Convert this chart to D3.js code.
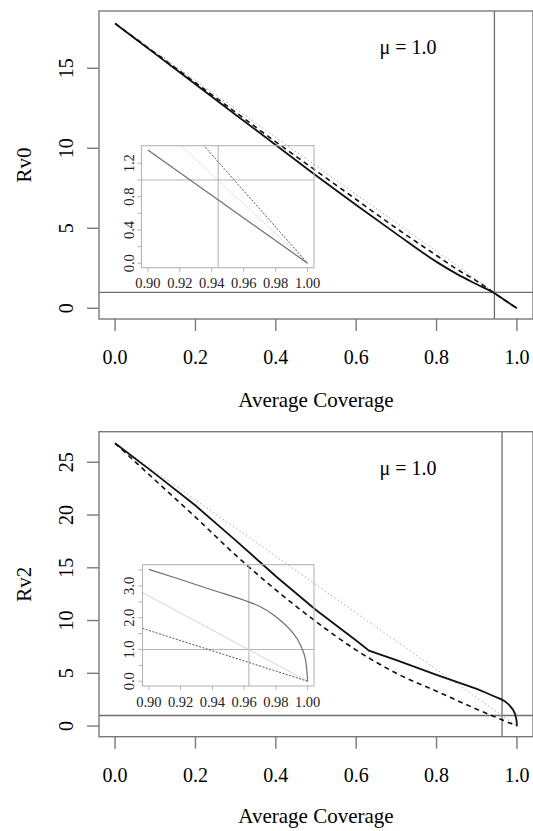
<!DOCTYPE html>
<html>
<head>
<meta charset="utf-8">
<script src="https://cdn.jsdelivr.net/npm/d3@7"></script>
<style>
  body { margin: 0; background: white; }
  svg { display: block; }
</style>
</head>
<body>
<script>
// ---- data ----
const xTicks = [0, 0.2, 0.4, 0.6, 0.8, 1.0]
const insetXTicks = [0.90, 0.92, 0.94, 0.96, 0.98, 1.00]

// top panel (Rv0)
const cov0 = [0, 0.1, 0.2, 0.3, 0.4, 0.5, 0.6, 0.7, 0.8, 0.85, 0.9, 0.94, 0.97, 1.0]
const rv0Solid = [17.8, 15.9, 14.0, 12.1, 10.2, 8.3, 6.45, 4.65, 2.9, 2.15, 1.5, 1.0, 0.5, 0]
const rv0Dashed = [17.8, 15.95, 14.1, 12.25, 10.4, 8.6, 6.8, 5.0, 3.3, 2.45, 1.7, 1.02, 0.5, 0]
const cov0Dotted = [0, 1.0]
const rv0Dotted = [17.8, 0]
const rv0Ticks = [0, 5, 10, 15]
const critical0 = 0.944

// inset of top panel
const inset0Cov = [0.90, 1.00]
const inset0Solid = [1.36, 0]
const inset0DashCov = [0.92, 1.00]
const inset0Dashed = [1.74, 0]
const inset0YTicks = [0, 0.2, 0.4, 0.6, 0.8, 1.0, 1.2]
const inset0YLabels = [0, 0.4, 0.8, 1.2]

// bottom panel (Rv2)
const cov2 = [0, 0.1, 0.2, 0.3, 0.4, 0.5, 0.6, 0.632, 0.7, 0.8, 0.9, 0.92, 0.94, 0.96, 0.97, 0.98, 0.99, 0.995, 0.999, 1.0]
const rv2Solid = [26.8, 23.9, 20.9, 17.6, 14.2, 11.0, 8.1, 7.15, 6.25, 4.85, 3.52, 3.2, 2.87, 2.55, 2.35, 2.03, 1.56, 1.19, 0.57, 0]
const cov2Dashed = [0, 0.1, 0.2, 0.3, 0.4, 0.5, 0.6, 0.7, 0.8, 0.9, 0.94, 0.97, 1.0]
const rv2Dashed = [26.8, 23.3, 19.8, 16.2, 12.9, 9.9, 7.2, 5.0, 3.3, 1.6, 0.96, 0.48, 0]
const cov2Dotted = [0, 1.0]
const rv2Dotted = [26.8, 0]
const rv2Ticks = [0, 5, 10, 15, 20, 25]
const critical2 = 0.963
const inset2YTicks = [0, 0.5, 1.0, 1.5, 2.0, 2.5, 3.0, 3.5]
const inset2YLabels = [0, 1, 2, 3]

const W = 533, H = 831
const font = "'Liberation Serif', 'Times New Roman', serif"

const svg = d3.select("body").append("svg")
    .attr("width", W)
    .attr("height", H)

function pts(xs, ys) {
    return xs.map((x, i) => ({ x: x, y: ys[i] }))
}

let clipId = 0

function drawLines(g, xScale, yScale, box, series) {
    const id = "clip" + (clipId++)
    svg.append("clipPath").attr("id", id)
        .append("rect")
        .attr("x", box.left).attr("y", box.top)
        .attr("width", box.right - box.left).attr("height", box.bottom - box.top)
    const lg = g.append("g").attr("clip-path", `url(#${id})`)
    series.forEach(s => {
        const line = d3.line()
            .x(d => xScale(d.x))
            .y(d => yScale(d.y))
            .curve(s.curve || d3.curveMonotoneX)
        lg.append("path")
            .datum(s.data)
            .attr("d", line)
            .attr("fill", "none")
            .attr("stroke", s.color)
            .attr("stroke-width", s.width)
            .attr("stroke-dasharray", s.dash || null)
    })
}

function drawPanel(cfg) {
    const g = svg.append("g")
    const box = cfg.box
    const x = d3.scaleLinear().domain([-0.04, 1.04]).range([box.left, box.right])
    const y = d3.scaleLinear().domain(cfg.yDomain).range([box.bottom, box.top])

    // reference lines
    g.append("line")
        .attr("x1", box.left).attr("x2", box.right)
        .attr("y1", y(1)).attr("y2", y(1))
        .attr("stroke", "#6e6e6e").attr("stroke-width", 1.3)
    g.append("line")
        .attr("x1", x(cfg.critical)).attr("x2", x(cfg.critical))
        .attr("y1", box.top).attr("y2", box.bottom)
        .attr("stroke", "#6e6e6e").attr("stroke-width", 1.3)

    // main curves
    drawLines(g, x, y, box, [
        { data: pts(cfg.dotX, cfg.dotY), color: "#aaaaaa", width: 1, dash: "1.5,2.5", curve: d3.curveLinear },
        { data: pts(cfg.dashX, cfg.dashY), color: "#111", width: 1.6, dash: "5,4" },
        { data: pts(cfg.solidX, cfg.solidY), color: "#111", width: 1.8, curve: cfg.solidCurve }
    ])

    // box
    g.append("rect")
        .attr("x", box.left).attr("y", box.top)
        .attr("width", box.right - box.left).attr("height", box.bottom - box.top)
        .attr("fill", "none").attr("stroke", "#7a7a7a").attr("stroke-width", 1.4)

    // x axis
    const xAxis = g.append("g")
    xTicks.forEach(t => {
        xAxis.append("line")
            .attr("x1", x(t)).attr("x2", x(t))
            .attr("y1", box.bottom).attr("y2", box.bottom + 12)
            .attr("stroke", "#7a7a7a").attr("stroke-width", 1.4)
        xAxis.append("text")
            .attr("x", x(t)).attr("y", box.bottom + 38)
            .attr("dy", "0.35em")
            .attr("text-anchor", "middle")
            .style("font-family", font).style("font-size", "20px")
            .text(t.toFixed(1))
    })
    g.append("text")
        .attr("x", (box.left + box.right) / 2).attr("y", box.bottom + cfg.titleOffset)
        .attr("text-anchor", "middle")
        .style("font-family", font).style("font-size", "21px")
        .text("Average Coverage")

    // y axis
    cfg.yTicks.forEach(t => {
        g.append("line")
            .attr("x1", box.left - 12).attr("x2", box.left)
            .attr("y1", y(t)).attr("y2", y(t))
            .attr("stroke", "#7a7a7a").attr("stroke-width", 1.4)
        g.append("text")
            .attr("transform", `translate(66, ${y(t)}) rotate(-90)`)
            .attr("dy", "0.35em")
            .attr("text-anchor", "middle")
            .style("font-family", font).style("font-size", "20px")
            .text(t)
    })
    g.append("text")
        .attr("transform", `translate(24, ${(box.top + box.bottom) / 2}) rotate(-90)`)
        .attr("dy", "0.35em")
        .attr("text-anchor", "middle")
        .style("font-family", font).style("font-size", "21px")
        .text(cfg.yLabel)

    g.append("text")
        .attr("x", 408).attr("y", box.top + 36)
        .attr("dy", "0.35em")
        .attr("text-anchor", "middle")
        .style("font-family", font).style("font-size", "20px")
        .text("\u03bc = 1.0")

    // inset
    const ib = cfg.inset.box
    const ix = d3.scaleLinear().domain([0.896, 1.004]).range([ib.left, ib.right])
    const iy = d3.scaleLinear().domain(cfg.inset.yDomain).range([ib.bottom, ib.top])
    const ig = svg.append("g")

    ig.append("line")
        .attr("x1", ib.left).attr("x2", ib.right)
        .attr("y1", iy(1)).attr("y2", iy(1))
        .attr("stroke", "#b4b4b4").attr("stroke-width", 1.1)
    ig.append("line")
        .attr("x1", ix(cfg.critical)).attr("x2", ix(cfg.critical))
        .attr("y1", ib.top).attr("y2", ib.bottom)
        .attr("stroke", "#b4b4b4").attr("stroke-width", 1.1)

    drawLines(ig, ix, iy, ib, cfg.inset.series)

    ig.append("rect")
        .attr("x", ib.left).attr("y", ib.top)
        .attr("width", ib.right - ib.left).attr("height", ib.bottom - ib.top)
        .attr("fill", "none").attr("stroke", "#b4b4b4").attr("stroke-width", 1.1)

    insetXTicks.forEach(t => {
        ig.append("line")
            .attr("x1", ix(t)).attr("x2", ix(t))
            .attr("y1", ib.bottom).attr("y2", ib.bottom + 4)
            .attr("stroke", "#b4b4b4").attr("stroke-width", 1)
        ig.append("text")
            .attr("x", ix(t)).attr("y", ib.bottom + 15.5)
            .attr("dy", "0.35em")
            .attr("text-anchor", "middle")
            .style("font-family", font).style("font-size", "14.5px")
            .attr("fill", "#222")
            .text(t.toFixed(2))
    })
    cfg.inset.yTicks.forEach(t => {
        ig.append("line")
            .attr("x1", ib.left - 4).attr("x2", ib.left)
            .attr("y1", iy(t)).attr("y2", iy(t))
            .attr("stroke", "#b4b4b4").attr("stroke-width", 1)
    })
    cfg.inset.yLabels.forEach(t => {
        ig.append("text")
            .attr("transform", `translate(128.5, ${iy(t)}) rotate(-90)`)
            .attr("dy", "0.35em")
            .attr("text-anchor", "middle")
            .style("font-family", font).style("font-size", "14.5px")
            .attr("fill", "#222")
            .text(t.toFixed(1))
    })
}

// ---- top panel ----
drawPanel({
    box: { left: 99, right: 533, top: 11, bottom: 319 },
    yDomain: [-0.67, 18.58],
    yTicks: rv0Ticks,
    yLabel: "Rv0",
    titleOffset: 88,
    critical: critical0,
    solidX: cov0, solidY: rv0Solid,
    dashX: cov0, dashY: rv0Dashed,
    dotX: cov0Dotted, dotY: rv0Dotted,
    inset: {
        box: { left: 141.5, right: 314, top: 145.7, bottom: 267.7 },
        yDomain: [-0.053, 1.411],
        yTicks: inset0YTicks,
        yLabels: inset0YLabels,
        series: [
            { data: pts(cov0Dotted, rv0Dotted), color: "#c8c8c8", width: 1, dash: "1,1", curve: d3.curveLinear },
            { data: pts(inset0DashCov, inset0Dashed), color: "#555", width: 1, dash: "2,1.5", curve: d3.curveLinear },
            { data: pts(inset0Cov, inset0Solid), color: "#707070", width: 1.2, curve: d3.curveLinear }
        ]
    }
})

// ---- bottom panel ----
const inset2Solid = pts(cov2, rv2Solid).filter(d => d.x >= 0.9)
const inset2Dashed = pts(cov2Dashed, rv2Dashed).filter(d => d.x >= 0.8)

drawPanel({
    box: { left: 99, right: 533, top: 431.7, bottom: 736.7 },
    yDomain: [-1.01, 27.9],
    yTicks: rv2Ticks,
    yLabel: "Rv2",
    titleOffset: 86.5,
    critical: critical2,
    solidX: cov2, solidY: rv2Solid, solidCurve: d3.curveLinear,
    dashX: cov2Dashed, dashY: rv2Dashed,
    dotX: cov2Dotted, dotY: rv2Dotted,
    inset: {
        box: { left: 142.5, right: 314, top: 564.7, bottom: 686 },
        yDomain: [-0.148, 3.667],
        yTicks: inset2YTicks,
        yLabels: inset2YLabels,
        series: [
            { data: pts(cov2Dotted, rv2Dotted), color: "#d4d4d4", width: 1, curve: d3.curveLinear },
            { data: inset2Dashed, color: "#555", width: 1, dash: "2,1.5", curve: d3.curveLinear },
            { data: inset2Solid, color: "#707070", width: 1.2 }
        ]
    }
})
</script>
</body>
</html>
